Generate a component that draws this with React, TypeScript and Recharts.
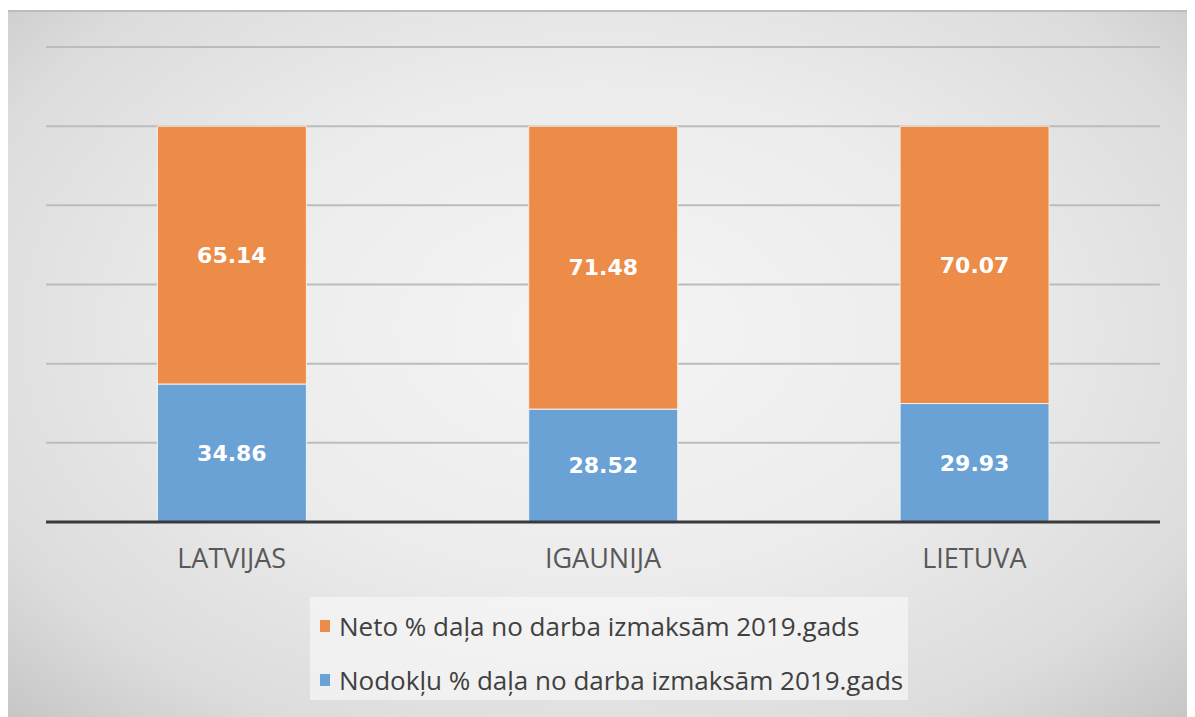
import React from 'react';
import {
  BarChart,
  Bar,
  XAxis,
  YAxis,
  CartesianGrid,
  Legend,
  LabelList,
} from 'recharts';

const countries = ['LATVIJAS', 'IGAUNIJA', 'LIETUVA'];
const netoShare = [65.14, 71.48, 70.07];
const taxShare = [34.86, 28.52, 29.93];
const yTicks = [0, 20, 40, 60, 80, 100, 120];

const NETO_NAME = 'Neto % daļa no darba izmaksām 2019.gads';
const TAX_NAME = 'Nodokļu % daļa no darba izmaksām 2019.gads';

const data = countries.map((c, i) => ({
  country: c,
  tax: taxShare[i],
  neto: netoShare[i],
}));

const legendItems = [
  { name: NETO_NAME, color: '#ED8B48' },
  { name: TAX_NAME, color: '#6AA2D6' },
];

const renderLegend = () => (
  <div
    style={{
      background: 'rgba(245,245,245,0.75)',
      height: 103,
      padding: '2px 4px 0 10px',
      boxSizing: 'border-box',
      fontFamily: '"Open Sans", sans-serif',
      fontSize: 26,
      color: '#404040',
      whiteSpace: 'nowrap',
    }}
  >
    {legendItems.map(item => (
      <div key={item.name} style={{ display: 'flex', alignItems: 'center', height: 54 }}>
        <span style={{ width: 10, height: 12, background: item.color, marginRight: 9, display: 'inline-block' }} />
        {item.name}
      </div>
    ))}
  </div>
);

const App: React.FC = () => {
  return (
    <div
      style={{
        position: 'relative',
        width: 1182,
        height: 707,
        marginTop: 2,
        borderTop: '2px solid #bdbdbd',
        background: 'radial-gradient(ellipse at 50% 45%, #f5f5f5 0%, #ececec 45%, #dcdcdc 80%, #c6c6c6 100%)',
      }}
    >
      <BarChart
        width={1182}
        height={705}
        data={data}
        margin={{ top: 35, right: 30, bottom: 0, left: 38 }}
        barCategoryGap="30%"
      >
        <CartesianGrid vertical={false} stroke="#bcbcbc" strokeWidth={2} />
        <YAxis hide domain={[0, 120]} ticks={yTicks} />
        <XAxis
          dataKey="country"
          height={195}
          tickLine={false}
          axisLine={{ stroke: '#3a3a3a', strokeWidth: 3 }}
          tickMargin={21}
          tick={{ fill: '#595959', fontSize: 27, fontFamily: '"Open Sans", sans-serif' }}
        />
        <Bar dataKey="tax" name={TAX_NAME} stackId="a" fill="#6AA2D6" stroke="#eef4fa" strokeWidth={1} isAnimationActive={false}>
          <LabelList dataKey="tax" position="center" fill="#ffffff" fontSize={22} fontWeight="bold" fontFamily='"DejaVu Sans", sans-serif' />
        </Bar>
        <Bar dataKey="neto" name={NETO_NAME} stackId="a" fill="#ED8B48" stroke="#fbeee4" strokeWidth={1} isAnimationActive={false}>
          <LabelList dataKey="neto" position="center" fill="#ffffff" fontSize={22} fontWeight="bold" fontFamily='"DejaVu Sans", sans-serif' />
        </Bar>
        <Legend
          layout="vertical"
          align="center"
          verticalAlign="middle"
          content={renderLegend}
          wrapperStyle={{ left: 302, top: 585, width: 598 }}
        />
      </BarChart>
    </div>
  );
};

export default App;
